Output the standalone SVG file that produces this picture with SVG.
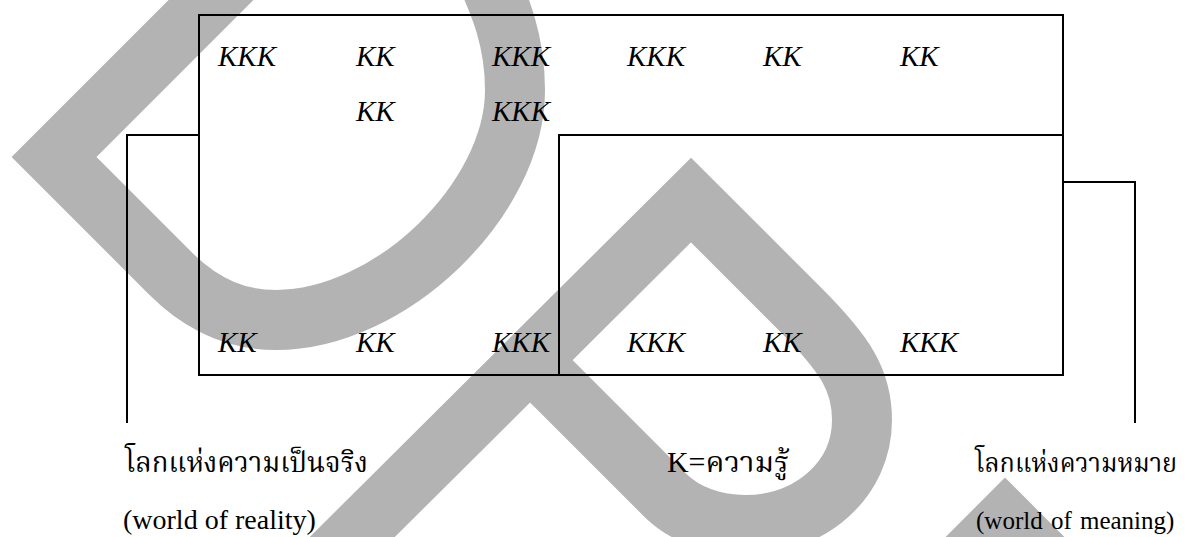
<svg xmlns="http://www.w3.org/2000/svg" width="1187" height="537" viewBox="0 0 1187 537">
<style>
.wm{fill:none;stroke:#b3b3b3;stroke-width:60;stroke-linejoin:miter;stroke-miterlimit:10}
.box{fill:none;stroke:#000;stroke-width:2}
.conn{fill:none;stroke:#000;stroke-width:2}
.k{font-family:"Liberation Serif","Times New Roman",serif;font-style:italic;font-size:29px;fill:#000}
.lbl{font-family:"Liberation Serif","Noto Serif Thai","Noto Sans Thai","Garuda","Loma",serif;font-size:29px;fill:#000}
.lbl2{font-family:"Liberation Serif","Noto Serif Thai","Noto Sans Thai","Garuda","Loma",serif;font-size:26px;fill:#000}
.en{font-family:"Liberation Serif","Times New Roman",serif;font-size:28px;fill:#000}
.en2{font-family:"Liberation Serif","Times New Roman",serif;font-size:25px;word-spacing:2px;fill:#000}
</style>
<rect width="1187" height="537" fill="#fff"/>
<g id="watermark">
<path class="wm" d="M254,-43 L54,157 L170,273 C205,308 240,320 276,320 C390,320 515,200 515,90 C515,40 500,5 484,-30"/>
<path class="wm" d="M290,599 L691,200 L800,309 C845,354 862,380 862,420 C862,480 810,525 745,525 C715,525 685,515 665,495 L530,360"/>
<path class="wm" d="M940,585 L1005,520 L1070,585"/>
</g>
<g id="node-reality">
<rect class="box" x="199" y="15" width="864" height="360"/>
<text class="k" x="218" y="66">KKK</text>
<text class="k" x="356" y="66">KK</text>
<text class="k" x="492" y="66">KKK</text>
<text class="k" x="356" y="121">KK</text>
<text class="k" x="492" y="121">KKK</text>
<text class="k" x="218" y="352">KK</text>
<text class="k" x="356" y="352">KK</text>
<text class="k" x="492" y="352">KKK</text>
<text class="k" x="627" y="66">KKK</text>
<text class="k" x="763" y="66">KK</text>
<text class="k" x="900" y="66">KK</text>
</g>
<g id="node-meaning">
<rect class="box" x="559" y="135" width="504" height="240"/>
<text class="k" x="627" y="352">KKK</text>
<text class="k" x="763" y="352">KK</text>
<text class="k" x="900" y="352">KKK</text>
</g>
<g id="connectors">
<path class="conn" d="M199,135 H127 V423"/>
<path class="conn" d="M1063,182 H1135 V423"/>
</g>
<g id="label-reality">
<text class="lbl" x="125" y="472" textLength="243" lengthAdjust="spacingAndGlyphs">โลกแห่งความเป็นจริง</text>
<text class="en" x="123" y="529">(world of reality)</text>
</g>
<g id="label-key">
<text class="lbl" x="667" y="472" textLength="122" lengthAdjust="spacingAndGlyphs">K=ความรู้</text>
</g>
<g id="label-meaning">
<text class="lbl2" x="975" y="472" textLength="202" lengthAdjust="spacingAndGlyphs">โลกแห่งความหมาย</text>
<text class="en2" x="976" y="529">(world of meaning)</text>
</g>
</svg>
